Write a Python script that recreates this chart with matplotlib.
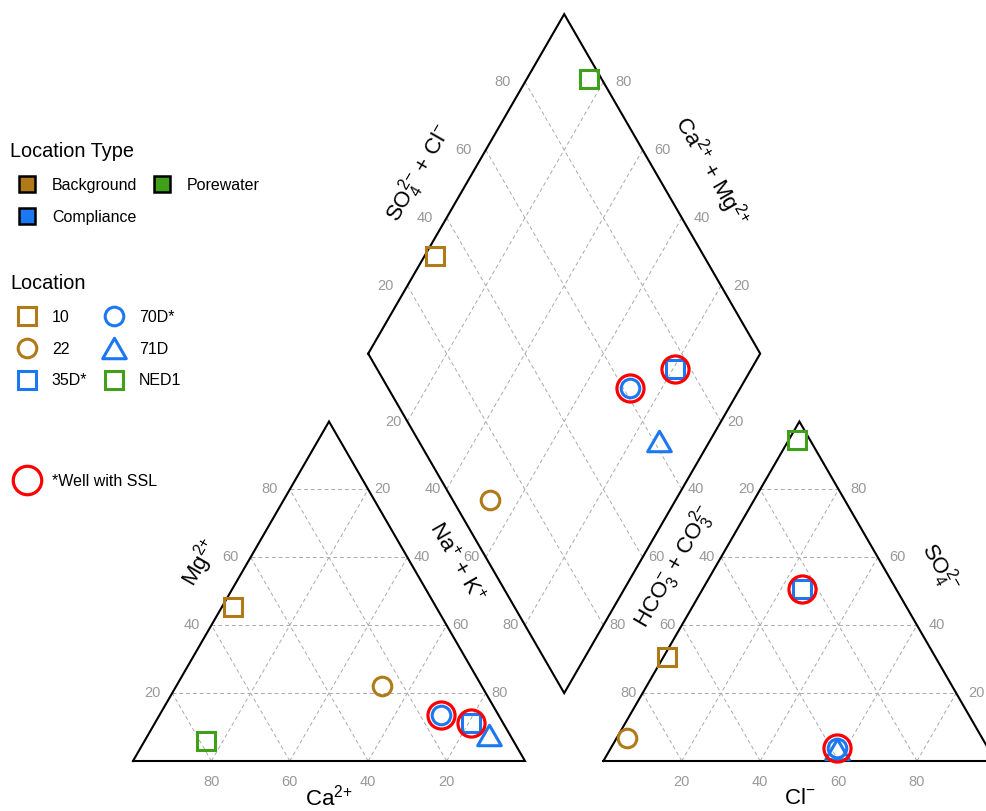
import numpy as np
import matplotlib
matplotlib.use("Agg")
import matplotlib.pyplot as plt
from matplotlib.lines import Line2D
from matplotlib.path import Path

plt.rcParams['font.family'] = ['Liberation Sans', 'DejaVu Sans']
plt.rcParams['mathtext.default'] = 'regular'

# ---------------------------------------------------------------------------
# Data: major ion composition, % of meq/L
# ---------------------------------------------------------------------------
locations = ['10', '22', '35D*', '70D*', '71D', 'NED1']
location_types = ['Background', 'Background', 'Compliance', 'Compliance', 'Compliance', 'Porewater']
ssl_wells = ['35D*', '70D*']

ca = [51.9, 25.4, 8.2, 14.7, 5.4, 78.4]
mg = [45.4, 22.1, 11.2, 13.5, 7.6, 5.9]
na_k = [2.7, 52.5, 80.6, 71.8, 87.0, 15.7]

hco3_co3 = [68.5, 90.6, 24.0, 38.4, 38.6, 3.3]
so4 = [30.6, 6.8, 50.7, 3.8, 3.6, 94.6]
cl = [0.9, 2.6, 25.3, 57.8, 57.8, 2.1]

tick_values = [20, 40, 60, 80]

# ---------------------------------------------------------------------------
# Styles
# ---------------------------------------------------------------------------
type_colors = {'Background': '#B07A18', 'Compliance': '#1C77F2', 'Porewater': '#41A01A'}
TRIANGLE = Path([(-1, -0.866), (1, -0.866), (0, 0.866), (0, 0)], closed=True)
loc_markers = {'10': 's', '22': 'o', '35D*': 's', '70D*': 'o', '71D': TRIANGLE, 'NED1': 's'}
loc_sizes = {'s': 13.4, 'o': 13.4}
TRI_SIZE = 17
MEW = 2.2
GRID_KW = dict(color='#aaaaaa', lw=0.7, ls=(0, (4, 3)), zorder=1)
TICK_KW = dict(color='#999999', fontsize=10.5)
TITLE_FS = 16

H = np.sqrt(3) / 2
GAP = 0.2
PX = 392.0            # pixels per triangle side
X0, Y0 = 133, 761     # pixel position of the cation triangle's left corner
W, HT = 986, 811


def cation_xy(c, m, n):
    t = c + m + n
    return (n + 0.5 * m) / t, H * m / t


def anion_xy(h, s, c):
    t = h + s + c
    return 1 + GAP + (c + 0.5 * s) / t, H * s / t


DL = (0.5 + GAP / 2, H * (1 + GAP))  # diamond left vertex


def diamond_xy(n, sc):
    return DL[0] + 0.5 * (n + sc), DL[1] + H * (sc - n)


def marker_size(mk):
    return TRI_SIZE if isinstance(mk, Path) else loc_sizes[mk]


fig = plt.figure(figsize=(W / 100, HT / 100), dpi=100)
ax = fig.add_axes([0, 0, 1, 1])
ax.set_xlim(-X0 / PX, (W - X0) / PX)
ax.set_ylim(-(HT - Y0) / PX, Y0 / PX)
ax.axis('off')


def seg(p, q, **kw):
    ax.plot([p[0], q[0]], [p[1], q[1]], **kw)


def lab(p, text, dx, dy=0, **kw):
    ax.annotate(text, xy=p, xytext=(dx, dy), textcoords='offset pixels',
                ha='center', va='center', **kw)


# --- outlines --------------------------------------------------------------
OUT = dict(color='black', lw=1.5, zorder=2, solid_joinstyle='miter')
for f in (cation_xy, anion_xy):
    a, b, c = f(1, 0, 0), f(0, 0, 1), f(0, 1, 0)
    ax.plot([a[0], b[0], c[0], a[0]], [a[1], b[1], c[1], a[1]], **OUT)
dv = [diamond_xy(0, 0), diamond_xy(1, 0), diamond_xy(1, 1), diamond_xy(0, 1), diamond_xy(0, 0)]
ax.plot([p[0] for p in dv], [p[1] for p in dv], **OUT)

# --- grids and tick labels -------------------------------------------------
for v in tick_values:
    f = v / 100
    # cation triangle
    seg(cation_xy(1 - f, f, 0), cation_xy(0, f, 1 - f), **GRID_KW)
    seg(cation_xy(1 - f, 0, f), cation_xy(0, 1 - f, f), **GRID_KW)
    seg(cation_xy(f, 0, 1 - f), cation_xy(f, 1 - f, 0), **GRID_KW)
    lab(cation_xy(f, 0, 1 - f), str(v), 0, -21, **TICK_KW)
    lab(cation_xy(1 - f, f, 0), str(v), -20, **TICK_KW)
    lab(cation_xy(0, 1 - f, f), str(v), 14, **TICK_KW)
    # anion triangle
    seg(anion_xy(1 - f, f, 0), anion_xy(0, f, 1 - f), **GRID_KW)
    seg(anion_xy(1 - f, 0, f), anion_xy(0, 1 - f, f), **GRID_KW)
    seg(anion_xy(f, 0, 1 - f), anion_xy(f, 1 - f, 0), **GRID_KW)
    lab(anion_xy(1 - f, 0, f), str(v), 0, -21, **TICK_KW)
    lab(anion_xy(f, 1 - f, 0), str(v), -14, **TICK_KW)
    lab(anion_xy(0, f, 1 - f), str(v), 20, **TICK_KW)
    # diamond
    seg(diamond_xy(f, 0), diamond_xy(f, 1), **GRID_KW)
    seg(diamond_xy(0, f), diamond_xy(1, f), **GRID_KW)
    lab(diamond_xy(0, f), str(v), -22, **TICK_KW)
    lab(diamond_xy(1 - f, 1), str(v), 20, **TICK_KW)
    lab(diamond_xy(f, 0), str(v), -14, **TICK_KW)
    lab(diamond_xy(1, 1 - f), str(v), 14, **TICK_KW)

# --- axis titles -------------------------------------------------------------
ROT = dict(fontsize=TITLE_FS, rotation_mode='anchor')
lab(cation_xy(0.5, 0, 0.5), r'Ca$^{2{+}}$', 0, -37, fontsize=TITLE_FS)
lab(cation_xy(0.417, 0.583, 0), r'Mg$^{2{+}}$', -47, rotation=60, **ROT)
lab(cation_xy(0, 0.583, 0.417), r'Na$^{{+}}$ + K$^{{+}}$', 45, rotation=-60, **ROT)
lab(anion_xy(0.5, 0, 0.5), r'Cl$^{{-}}$', 0, -37, fontsize=TITLE_FS)
lab(anion_xy(0.426, 0.574, 0), r'HCO$_3^{{-}}$ + CO$_3^{2{-}}$', -41, rotation=60, **ROT)
lab(anion_xy(0, 0.571, 0.429), r'SO$_4^{2{-}}$', 56, rotation=-60, **ROT)
lab(diamond_xy(0, 0.532), r'SO$_4^{2{-}}$ + Cl$^{{-}}$', -53, rotation=60, **ROT)
lab(diamond_xy(0.462, 1), r'Ca$^{2{+}}$ + Mg$^{2{+}}$', 56, rotation=-60, **ROT)

# --- data points ------------------------------------------------------------
for i, loc in enumerate(locations):
    color = type_colors[location_types[i]]
    mk = loc_markers[loc]
    cx, cy = cation_xy(ca[i], mg[i], na_k[i])
    axx, axy = anion_xy(hco3_co3[i], so4[i], cl[i])
    nk = na_k[i] / (ca[i] + mg[i] + na_k[i])
    sc = (so4[i] + cl[i]) / (hco3_co3[i] + so4[i] + cl[i])
    dx, dy = diamond_xy(nk, sc)
    ax.plot([cx, axx, dx], [cy, axy, dy], ls='', marker=mk, ms=marker_size(mk), mfc='none',
            mec=color, mew=MEW, zorder=3)
    if loc in ssl_wells:
        ax.plot([cx, axx, dx], [cy, axy, dy], ls='', marker='o', ms=19.5, mfc='none',
                mec='#FF0000', mew=2.3, zorder=4)

# --- legends -----------------------------------------------------------------
LEG_KW = dict(loc='upper left', frameon=False, borderpad=0, borderaxespad=0,
              handlelength=2.125, handletextpad=0.5, labelspacing=1.05,
              fontsize=11.5, title_fontsize=14.3, alignment='left')

type_names = ['Background', 'Compliance', 'Porewater']
type_handles = [Line2D([], [], ls='', marker='s', ms=11, mfc=type_colors[t], mec='black', mew=1.8)
                for t in type_names]
fig.legend(type_handles, type_names, title='Location Type', ncol=2, columnspacing=0.5,
           bbox_to_anchor=(10 / W, 1 - 142 / HT), **LEG_KW)

loc_handles = [Line2D([], [], ls='', marker=loc_markers[loc], ms=marker_size(loc_markers[loc]),
                      mfc='none', mec=type_colors[location_types[i]], mew=MEW)
               for i, loc in enumerate(locations)]
fig.legend(loc_handles, locations, title='Location', ncol=2, columnspacing=0.6,
           bbox_to_anchor=(10 / W, 1 - 274 / HT), **LEG_KW)

ssl_handle = Line2D([], [], ls='', marker='o', ms=20.5, mfc='none', mec='#FF0000', mew=2.3)
fig.legend([ssl_handle], ['*Well with SSL'], bbox_to_anchor=(10 / W, 1 - 474 / HT), **LEG_KW)

fig.savefig('out.png', dpi=100)
